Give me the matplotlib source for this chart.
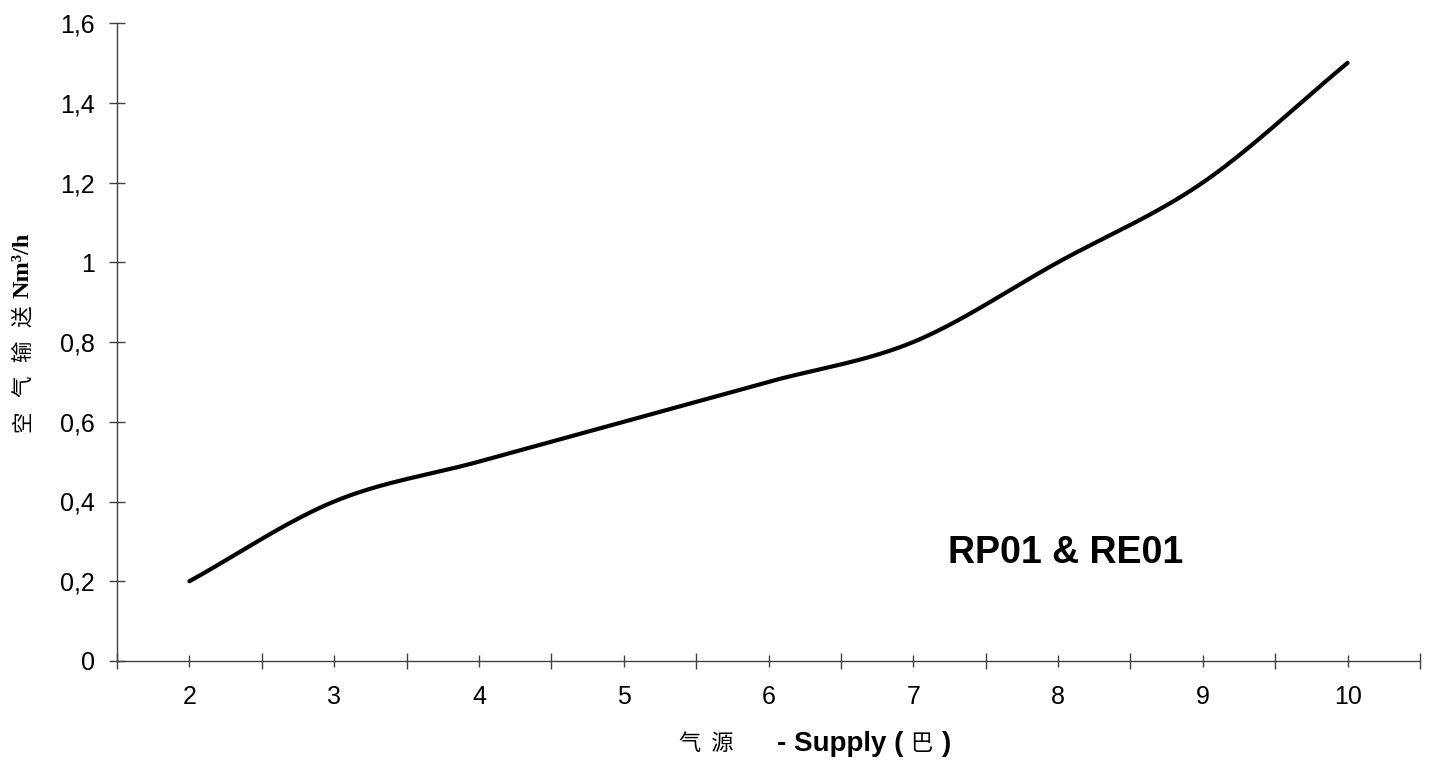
import numpy as np
import matplotlib
matplotlib.use("Agg")
import matplotlib.pyplot as plt
from matplotlib.ticker import FixedLocator, FuncFormatter

# supply pressure (bar) and air flow (Nm3/h)
supply = [2, 3, 4, 5, 6, 7, 8, 9, 10]
flow = [0.2, 0.4, 0.5, 0.6, 0.7, 0.8, 1.0, 1.2, 1.5]
y_ticks = [0, 0.2, 0.4, 0.6, 0.8, 1.0, 1.2, 1.4, 1.6]
y_labels = ["0", "0,2", "0,4", "0,6", "0,8", "1", "1,2", "1,4", "1,6"]
series_name = "RP01 & RE01"
ytitle_cjk = ["空", "气", "输", "送"]

CJK = ["Noto Sans CJK SC", "DejaVu Sans"]


def smooth(xs, ys, n=40):
    # catmull-rom through the points, like the spreadsheet "smoothed line"
    x = np.asarray(xs, float)
    y = np.asarray(ys, float)
    px = np.concatenate([[2 * x[0] - x[1]], x, [2 * x[-1] - x[-2]]])
    py = np.concatenate([[2 * y[0] - y[1]], y, [2 * y[-1] - y[-2]]])
    t = np.linspace(0, 1, n)
    ox, oy = [], []
    for i in range(1, len(px) - 2):
        for p, o in ((px, ox), (py, oy)):
            p0, p1, p2, p3 = p[i - 1], p[i], p[i + 1], p[i + 2]
            o.extend(0.5 * (2 * p1 + (-p0 + p2) * t
                            + (2 * p0 - 5 * p1 + 4 * p2 - p3) * t ** 2
                            + (-p0 + 3 * p1 - 3 * p2 + p3) * t ** 3))
    return np.array(ox), np.array(oy)


W, H = 1434, 762
fig = plt.figure(figsize=(W / 100, H / 100), dpi=100)
ax = fig.add_axes([117 / W, 1 - 661 / H, (1420 - 117) / W, (661 - 23) / H])

sx, sy = smooth(supply, flow)
ax.plot(sx, sy, color="black", lw=3.0, solid_capstyle="round")

ax.set_xlim(supply[0] - 0.5, supply[-1] + 0.5)
ax.set_ylim(y_ticks[0], y_ticks[-1])

for s in ("top", "right"):
    ax.spines[s].set_visible(False)
for s in ("left", "bottom"):
    ax.spines[s].set_color("#404040")
    ax.spines[s].set_linewidth(1.0)

ax.xaxis.set_major_locator(FixedLocator(np.arange(supply[0] - 0.5, supply[-1] + 1, 1)))
ax.xaxis.set_minor_locator(FixedLocator(supply))
ax.xaxis.set_major_formatter(FuncFormatter(lambda v, p: ""))
ax.xaxis.set_minor_formatter(FuncFormatter(lambda v, p: str(int(round(v)))))
ax.tick_params(axis="x", which="major", direction="inout", length=11.5, width=1.0, color="#404040")
ax.tick_params(axis="x", which="minor", direction="inout", length=8, width=1.0, color="#404040",
               pad=13, labelsize=18)

ax.set_yticks(y_ticks)
ax.set_yticklabels(y_labels)
ax.tick_params(axis="y", direction="inout", length=11.5, width=1.0, color="#404040",
               pad=10, labelsize=18)
for lab in ax.get_xticklabels(minor=True) + ax.get_yticklabels():
    lab.set_fontfamily("Liberation Sans")

ax.text(948 / W, 1 - 553 / H, series_name, transform=fig.transFigure,
        fontsize=27, fontweight="bold", family="Liberation Sans", va="center", ha="left")

# y axis title, characters stacked bottom to top
for i, ch in enumerate(ytitle_cjk):
    fig.text(23 / W, 1 - (421 - 35 * i) / H, ch, rotation=90, ha="center", va="center",
             fontsize=15.5, family=CJK)
fig.text(23 / W, 1 - 298 / H, "Nm³/h", rotation=90, ha="center", va="bottom",
         fontsize=17.5, fontweight="bold", family="Liberation Serif")

# x axis title
yx = 1 - 744 / H
fig.text(679 / W, yx, "气  源", ha="left", va="center", fontsize=16, family=CJK)
fig.text(777 / W, yx, "- Supply (", ha="left", va="center", fontsize=20,
         fontweight="bold", family="Liberation Sans")
fig.text(910 / W, yx, "巴", ha="left", va="center", fontsize=16, family=CJK)
fig.text(942 / W, yx, ")", ha="left", va="center", fontsize=20,
         fontweight="bold", family="Liberation Sans")

fig.savefig("out.png", dpi=100)
